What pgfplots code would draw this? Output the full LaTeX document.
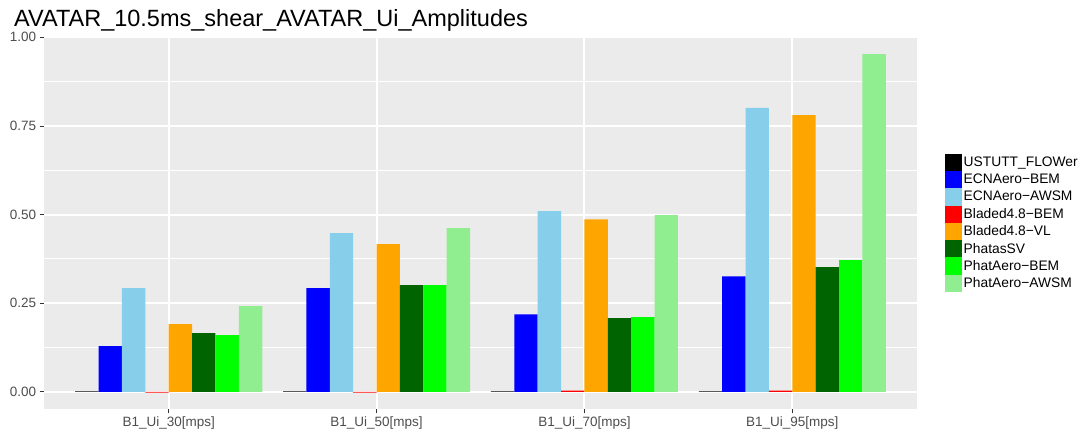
\documentclass[border=0pt]{standalone}
\usepackage{fontspec}
\setmainfont{Liberation Sans}
\usepackage{pgfplots}
\pgfplotsset{compat=1.18}

\definecolor{panel}{HTML}{EBEBEB}
\definecolor{ticktxt}{HTML}{4D4D4D}
\definecolor{tickcol}{HTML}{333333}
\definecolor{cUST}{HTML}{000000}
\definecolor{cECNB}{HTML}{0000FF}
\definecolor{cECNA}{HTML}{87CEEB}
\definecolor{cBLB}{HTML}{FF0000}
\definecolor{cBLV}{HTML}{FFA500}
\definecolor{cPSV}{HTML}{006400}
\definecolor{cPAB}{HTML}{00FF00}
\definecolor{cPAA}{HTML}{90EE90}

\begin{document}
\begin{tikzpicture}[x=1pt,y=1pt]
\useasboundingbox (0,0) rectangle (1084,435);
\node[anchor=base west, inner sep=0pt, font=\fontsize{23.5}{27}\selectfont] at (14,408) {AVATAR\_10.5ms\_shear\_AVATAR\_Ui\_Amplitudes};
\begin{axis}[
  at={(44pt,26pt)}, anchor=south west,
  scale only axis, width=873pt, height=372pt,
  ybar, bar width=0.1125,
  xmin=0.4, xmax=4.6, ymin=-0.048, ymax=1.001,
  xtick={1,2,3,4},
  xticklabels={B1\_Ui\_30[mps],B1\_Ui\_50[mps],B1\_Ui\_70[mps],B1\_Ui\_95[mps]},
  ytick={0,0.25,0.5,0.75,1},
  yticklabels={0.00,0.25,0.50,0.75,1.00},
  minor ytick={0.125,0.375,0.625,0.875},
  xtick pos=left, ytick pos=left,
  xmajorgrids, ymajorgrids, yminorgrids,
  major grid style={white, line width=2pt},
  minor grid style={white, line width=1pt},
  axis background/.style={fill=panel},
  axis line style={draw=none},
  tick align=outside, major tick length=4.4pt, minor tick length=0pt,
  tick style={tickcol, line width=1pt},
  ticklabel style={font=\fontsize{13.5}{16}\selectfont, text=ticktxt},
  legend image code/.code={\fill[#1] (0pt,-8.65pt) rectangle (17pt,8.65pt);},
  legend style={draw=none, fill=none, at={(1.0321,0.687)}, anchor=north west,
    inner sep=0pt, row sep=0pt, font=\fontsize{13.8}{16}\selectfont,
    nodes={inner sep=0pt}},
  legend cell align=left,
  /tikz/every odd column/.append style={column sep=1.5pt},
]
\addplot[fill=cUST, draw=none, bar shift=-0.39375] coordinates {(1,0.002) (2,0.002) (3,0.002) (4,0.002)};
\addplot[fill=cECNB, draw=none, bar shift=-0.28125] coordinates {(1,0.129) (2,0.293) (3,0.219) (4,0.326)};
\addplot[fill=cECNA, draw=none, bar shift=-0.16875] coordinates {(1,0.293) (2,0.448) (3,0.510) (4,0.801)};
\addplot[fill=cBLB, draw=none, bar shift=-0.05625] coordinates {(1,-0.002) (2,-0.002) (3,0.004) (4,0.004)};
\addplot[fill=cBLV, draw=none, bar shift=0.05625] coordinates {(1,0.191) (2,0.417) (3,0.487) (4,0.781)};
\addplot[fill=cPSV, draw=none, bar shift=0.16875] coordinates {(1,0.166) (2,0.301) (3,0.208) (4,0.352)};
\addplot[fill=cPAB, draw=none, bar shift=0.28125] coordinates {(1,0.160) (2,0.301) (3,0.211) (4,0.372)};
\addplot[fill=cPAA, draw=none, bar shift=0.39375] coordinates {(1,0.242) (2,0.462) (3,0.499) (4,0.953)};
\legend{USTUTT\_FLOWer,ECNAero−BEM,ECNAero−AWSM,Bladed4.8−BEM,Bladed4.8−VL,PhatasSV,PhatAero−BEM,PhatAero−AWSM}
\end{axis}
\end{tikzpicture}
\end{document}
